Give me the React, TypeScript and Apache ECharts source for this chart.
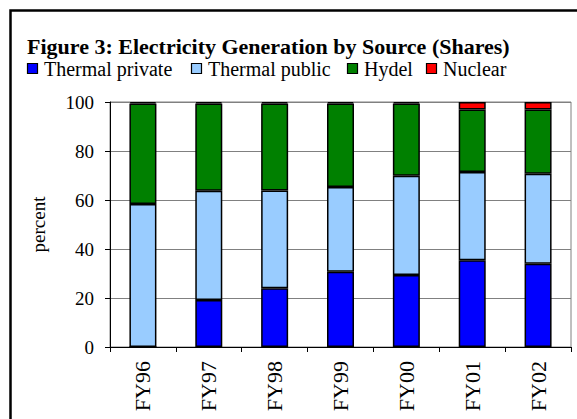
import React, { useEffect, useRef } from "react";
import * as echarts from "echarts";

const categories = ["FY96", "FY97", "FY98", "FY99", "FY00", "FY01", "FY02"];
const thermalPrivate = [0, 19.2, 24.0, 30.7, 29.4, 35.4, 34.0];
const thermalPublic = [58.4, 44.6, 39.9, 34.6, 40.5, 36.0, 36.7];
const hydel = [41.0, 35.6, 35.5, 34.1, 29.5, 25.5, 26.2];
const nuclear = [0.6, 0.6, 0.6, 0.6, 0.6, 3.1, 3.1];
const yTicks = [0, 20, 40, 60, 80, 100];
const seriesNames = ["Thermal private", "Thermal public", "Hydel", "Nuclear"];
const seriesColors = ["#0000ff", "#99ccff", "#008000", "#ff0000"];

const FONT = "Liberation Serif";
const LEGEND_X = [27, 191, 347, 426];

export default function App() {
  const ref = useRef<HTMLDivElement>(null);
  useEffect(() => {
    if (!ref.current) return;
    const chart = echarts.init(ref.current, undefined, { renderer: "svg" });
    const values = [thermalPrivate, thermalPublic, hydel, nuclear];
    const legendGraphics: any[] = [];
    seriesNames.forEach((n, i) => {
      legendGraphics.push({
        type: "rect",
        shape: { x: LEGEND_X[i] + 0.5, y: 63.5, width: 10, height: 10 },
        style: { fill: seriesColors[i], stroke: "#000", lineWidth: 1.2 },
      });
      legendGraphics.push({
        type: "text",
        x: LEGEND_X[i] + 17,
        y: 69,
        style: {
          text: n,
          fill: "#000",
          fontFamily: FONT,
          fontSize: 20,
          verticalAlign: "middle",
          align: "left",
        },
      });
    });
    chart.setOption({
      animation: false,
      textStyle: { fontFamily: FONT, color: "#000" },
      title: {
        text: "Figure 3: Electricity Generation by Source (Shares)",
        left: 22,
        top: 30,
        textStyle: { fontFamily: FONT, fontWeight: "bold", fontSize: 22, color: "#000" },
      },
      legend: { show: false, data: seriesNames },
      graphic: [
        ...legendGraphics,
        {
          type: "rect",
          shape: { x: 10.5, y: 10.5, width: 620, height: 500 },
          style: { fill: "none", stroke: "#000", lineWidth: 2.5 },
          z: 100,
        },
      ],
      grid: {
        left: 110,
        right: 6,
        top: 102,
        bottom: 72,
        show: true,
        borderColor: "#808080",
        borderWidth: 1,
      },
      xAxis: {
        type: "category",
        data: categories,
        axisLine: { lineStyle: { color: "#000", width: 1 } },
        axisTick: { show: true, length: 5, lineStyle: { color: "#000" } },
        axisLabel: {
          rotate: 90,
          fontSize: 22,
          fontFamily: FONT,
          color: "#000",
          margin: 14,
        },
      },
      yAxis: {
        type: "value",
        min: yTicks[0],
        max: yTicks[yTicks.length - 1],
        interval: 20,
        name: "percent",
        nameLocation: "middle",
        nameGap: 62,
        nameTextStyle: { fontFamily: FONT, fontSize: 19, color: "#000" },
        axisLine: { show: true, lineStyle: { color: "#000", width: 1 } },
        axisTick: { show: true, length: 5, lineStyle: { color: "#000" } },
        axisLabel: {
          fontSize: 19,
          fontFamily: FONT,
          color: "#000",
          margin: 16,
        },
        splitLine: { lineStyle: { color: "#808080", width: 1 } },
      },
      series: seriesNames.map((n, i) => ({
        name: n,
        type: "bar",
        stack: "total",
        data: values[i],
        barWidth: 27,
        itemStyle: { color: seriesColors[i], borderColor: "#000", borderWidth: 1.5 },
      })),
    });
    return () => chart.dispose();
  }, []);
  return <div ref={ref} style={{ width: 577, height: 419, position: "absolute", left: 0, top: 0 }} />;
}
